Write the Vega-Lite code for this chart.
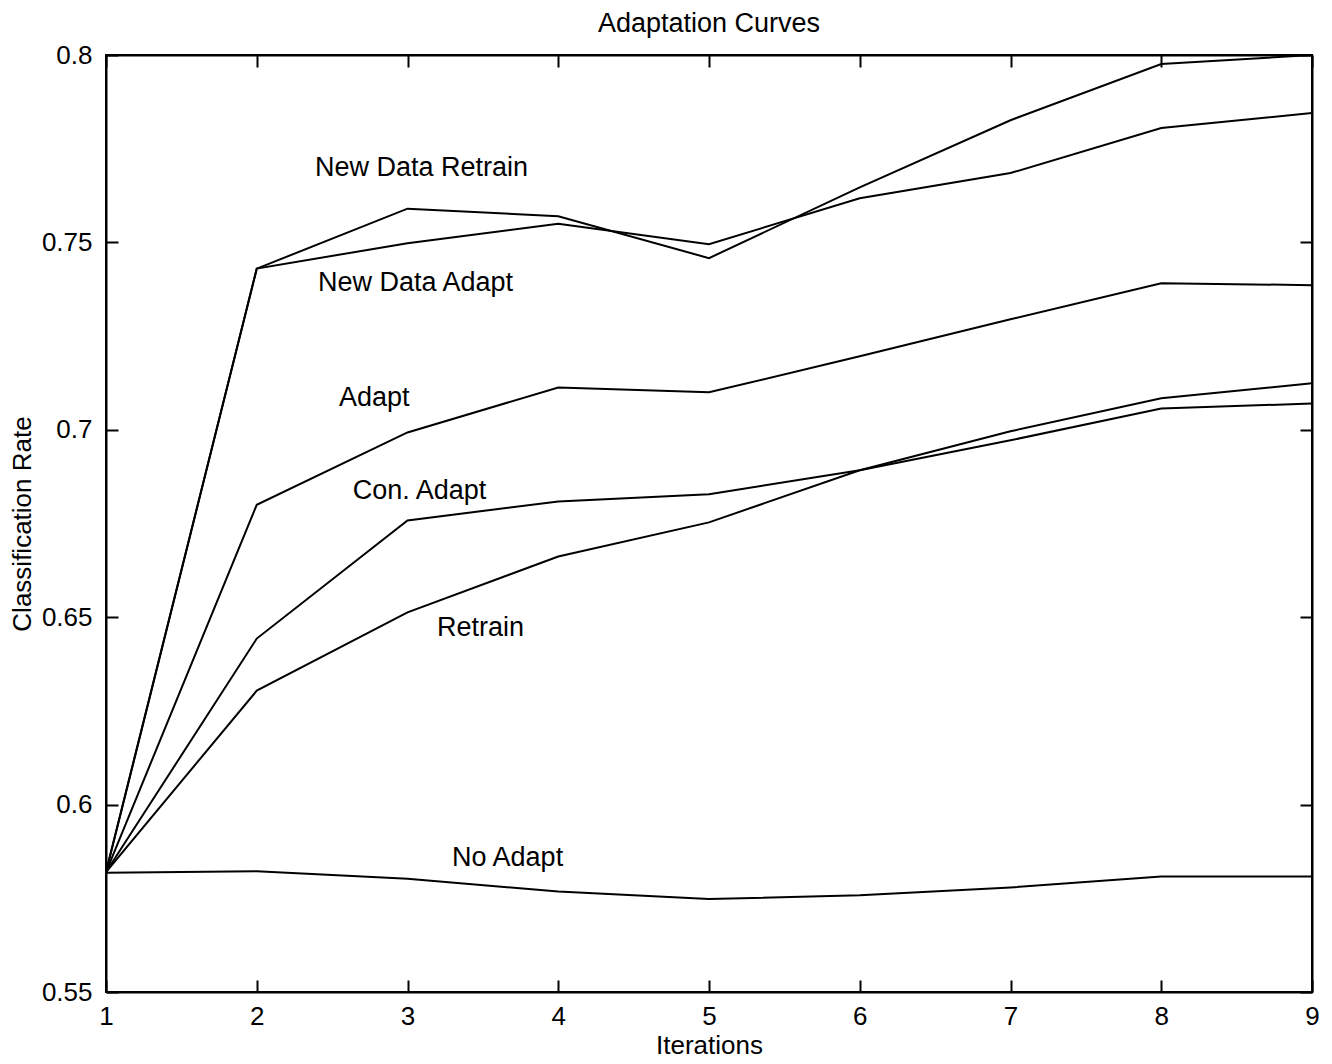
{
  "$schema": "https://vega.github.io/schema/vega-lite/v6.json",
  "width": 1206,
  "height": 937,
  "autosize": {"type": "none"},
  "padding": {"left": 106, "top": 55, "right": 20, "bottom": 72},
  "background": "white",
  "config": {
    "font": "Liberation Sans",
    "view": {"stroke": "black", "strokeWidth": 2},
    "axis": {
      "domainColor": "black",
      "domainWidth": 2,
      "tickColor": "black",
      "tickWidth": 2,
      "tickSize": -12,
      "labelColor": "black",
      "labelFont": "Liberation Sans",
      "labelFontSize": 26,
      "labelFlush": false,
      "titleFont": "Liberation Sans",
      "titleFontSize": 26,
      "titleFontWeight": "normal",
      "titleColor": "black",
      "grid": false
    }
  },
  "title": {
    "text": "Adaptation Curves",
    "font": "Liberation Sans",
    "fontSize": 27,
    "fontWeight": "normal",
    "color": "black",
    "offset": 4,
    "anchor": "middle"
  },
  "datasets": {
    "curves": [
      {"series": "New Data Retrain", "iter": 1, "rate": 0.582},
      {"series": "New Data Retrain", "iter": 2, "rate": 0.743},
      {"series": "New Data Retrain", "iter": 3, "rate": 0.759},
      {"series": "New Data Retrain", "iter": 4, "rate": 0.757},
      {"series": "New Data Retrain", "iter": 5, "rate": 0.7458},
      {"series": "New Data Retrain", "iter": 6, "rate": 0.7647},
      {"series": "New Data Retrain", "iter": 7, "rate": 0.7826},
      {"series": "New Data Retrain", "iter": 8, "rate": 0.7976},
      {"series": "New Data Retrain", "iter": 9, "rate": 0.8},
      {"series": "New Data Adapt", "iter": 1, "rate": 0.582},
      {"series": "New Data Adapt", "iter": 2, "rate": 0.743},
      {"series": "New Data Adapt", "iter": 3, "rate": 0.7498},
      {"series": "New Data Adapt", "iter": 4, "rate": 0.755},
      {"series": "New Data Adapt", "iter": 5, "rate": 0.7495},
      {"series": "New Data Adapt", "iter": 6, "rate": 0.7618},
      {"series": "New Data Adapt", "iter": 7, "rate": 0.7685},
      {"series": "New Data Adapt", "iter": 8, "rate": 0.7805},
      {"series": "New Data Adapt", "iter": 9, "rate": 0.7845},
      {"series": "Adapt", "iter": 1, "rate": 0.582},
      {"series": "Adapt", "iter": 2, "rate": 0.680},
      {"series": "Adapt", "iter": 3, "rate": 0.6993},
      {"series": "Adapt", "iter": 4, "rate": 0.7113},
      {"series": "Adapt", "iter": 5, "rate": 0.710},
      {"series": "Adapt", "iter": 6, "rate": 0.7196},
      {"series": "Adapt", "iter": 7, "rate": 0.7295},
      {"series": "Adapt", "iter": 8, "rate": 0.7391},
      {"series": "Adapt", "iter": 9, "rate": 0.7386},
      {"series": "Con. Adapt", "iter": 1, "rate": 0.582},
      {"series": "Con. Adapt", "iter": 2, "rate": 0.6443},
      {"series": "Con. Adapt", "iter": 3, "rate": 0.6758},
      {"series": "Con. Adapt", "iter": 4, "rate": 0.6809},
      {"series": "Con. Adapt", "iter": 5, "rate": 0.6828},
      {"series": "Con. Adapt", "iter": 6, "rate": 0.6892},
      {"series": "Con. Adapt", "iter": 7, "rate": 0.6972},
      {"series": "Con. Adapt", "iter": 8, "rate": 0.7057},
      {"series": "Con. Adapt", "iter": 9, "rate": 0.707},
      {"series": "Retrain", "iter": 1, "rate": 0.582},
      {"series": "Retrain", "iter": 2, "rate": 0.6304},
      {"series": "Retrain", "iter": 3, "rate": 0.6513},
      {"series": "Retrain", "iter": 4, "rate": 0.6662},
      {"series": "Retrain", "iter": 5, "rate": 0.6753},
      {"series": "Retrain", "iter": 6, "rate": 0.6892},
      {"series": "Retrain", "iter": 7, "rate": 0.6996},
      {"series": "Retrain", "iter": 8, "rate": 0.7084},
      {"series": "Retrain", "iter": 9, "rate": 0.7124},
      {"series": "No Adapt", "iter": 1, "rate": 0.5818},
      {"series": "No Adapt", "iter": 2, "rate": 0.5822},
      {"series": "No Adapt", "iter": 3, "rate": 0.5802},
      {"series": "No Adapt", "iter": 4, "rate": 0.5768},
      {"series": "No Adapt", "iter": 5, "rate": 0.5748},
      {"series": "No Adapt", "iter": 6, "rate": 0.5758},
      {"series": "No Adapt", "iter": 7, "rate": 0.5779},
      {"series": "No Adapt", "iter": 8, "rate": 0.5808},
      {"series": "No Adapt", "iter": 9, "rate": 0.5808}
    ],
    "labels": [
      {"label": "New Data Retrain", "iter": 3.093, "rate": 0.7698},
      {"label": "New Data Adapt", "iter": 3.053, "rate": 0.7391},
      {"label": "Adapt", "iter": 2.78, "rate": 0.7084},
      {"label": "Con. Adapt", "iter": 3.08, "rate": 0.6836},
      {"label": "Retrain", "iter": 3.485, "rate": 0.647},
      {"label": "No Adapt", "iter": 3.664, "rate": 0.5858}
    ]
  },
  "resolve": {"axis": {"x": "independent", "y": "independent"}},
  "layer": [
    {
      "data": {"name": "curves"},
      "mark": {"type": "line", "color": "black", "strokeWidth": 2, "clip": true},
      "encoding": {
        "x": {
          "field": "iter",
          "type": "quantitative",
          "scale": {"domain": [1, 9], "nice": false, "zero": false},
          "axis": {"orient": "bottom", "title": "Iterations", "values": [1, 2, 3, 4, 5, 6, 7, 8, 9], "labelPadding": 23, "titlePadding": 3}
        },
        "y": {
          "field": "rate",
          "type": "quantitative",
          "scale": {"domain": [0.55, 0.8], "nice": false, "zero": false},
          "axis": {"orient": "left", "title": "Classification Rate", "values": [0.55, 0.6, 0.65, 0.7, 0.75, 0.8], "format": ".2~f", "labelPadding": 26, "titlePadding": 6}
        },
        "detail": {"field": "series"}
      }
    },
    {
      "data": {"name": "labels"},
      "mark": {"type": "text", "color": "black", "fontSize": 27, "font": "Liberation Sans", "align": "center", "baseline": "middle"},
      "encoding": {
        "x": {
          "field": "iter",
          "type": "quantitative",
          "scale": {"domain": [1, 9], "nice": false, "zero": false},
          "axis": {"orient": "top", "title": null, "labels": false, "values": [1, 2, 3, 4, 5, 6, 7, 8, 9]}
        },
        "y": {
          "field": "rate",
          "type": "quantitative",
          "scale": {"domain": [0.55, 0.8], "nice": false, "zero": false},
          "axis": {"orient": "right", "title": null, "labels": false, "values": [0.55, 0.6, 0.65, 0.7, 0.75, 0.8]}
        },
        "text": {"field": "label"}
      }
    }
  ]
}
